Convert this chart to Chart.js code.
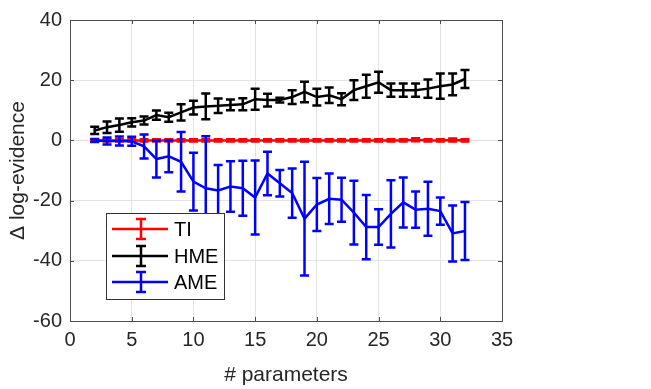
<!DOCTYPE html>
<html>
<head>
<meta charset="utf-8">
<script src="https://cdn.jsdelivr.net/npm/chart.js@4.4.0/dist/chart.umd.min.js"></script>
<style>
  html, body { margin: 0; padding: 0; background: #fff; }
  #wrap { width: 651px; height: 389px; }
</style>
</head>
<body>
<div id="wrap"><canvas id="grafico"></canvas></div>
<script>
// numero de parametros
const parametros = [2,3,4,5,6,7,8,9,10,11,12,13,14,15,16,17,18,19,20,21,22,23,24,25,26,27,28,29,30,31,32]

// TI
const tiValores = [0,0,0,0,0,0,0,0,0,0,0,0,0,0,0,0,0,0,0,0,0,0,0,0,0,0,0.2,0,0,0.1,0]
const tiErrores = [0.4,0.4,0.4,0.4,0.4,0.4,0.4,0.4,0.4,0.4,0.4,0.4,0.4,0.4,0.4,0.4,0.4,0.4,0.4,0.4,0.4,0.4,0.4,0.4,0.4,0.4,0.5,0.4,0.4,0.5,0.4]

// HME
const hmeValores = [3.3,4.4,5.1,6,6.6,8.4,7.7,9.3,10.9,11.3,11.5,11.8,12,13.7,13.4,13.4,14.4,16.1,14.4,15,13.7,16.7,18,19.3,16.7,16.7,16.7,17.2,18,18.6,20.4]
const hmeErrores = [1.2,1.9,2.2,1.4,1.3,1.5,1.5,2.7,2.3,4.3,2.4,1.8,2,3.5,2.1,0.8,2.3,3.4,2.8,2.6,2,3.3,3.8,3.5,2.2,2.2,2.2,3,4.2,3.6,3]

// AME
const ameValores = [0,-0.2,-0.2,-0.3,-2,-6.2,-5.3,-7.1,-13.7,-15.9,-16.6,-15.3,-15.9,-19,-11,-14.2,-17.5,-26,-21.3,-19.4,-19.7,-24,-28.8,-28.8,-24.4,-20.6,-23,-22.7,-23.5,-30.9,-30.1]
const ameErrores = [0.5,1.2,1.5,1.5,4,6.1,5.3,9.9,9.6,17.3,8.4,8.4,9.1,12.3,7.2,4.4,8.2,18.9,8.8,8.4,7.3,10.6,10.7,5.9,11.2,8.3,6,9,4.5,9.3,9.6]

// ticks
const ticksX = [0,5,10,15,20,25,30,35]
const ticksY = [-60,-40,-20,0,20,40]

const fuente = "'Liberation Sans', Arial, Helvetica, sans-serif"

const armarPuntos = (valores) => {
  let puntos = []
  for(let i=0; i < parametros.length; i++){
    puntos.push({ x: parametros[i], y: valores[i] })
  }
  return puntos
}

// dibuja las barras de error de cada dataset con las escalas del grafico
const barrasError = {
  id: 'barrasError',
  afterDatasetDraw(chart, args) {
    const ds = chart.data.datasets[args.index]
    if(!ds.errores) return
    const ctx = chart.ctx
    const xs = chart.scales.x
    const ys = chart.scales.y
    ctx.save()
    ctx.strokeStyle = ds.borderColor
    ctx.lineWidth = ds.borderWidth
    ctx.lineCap = 'butt'
    for(let i=0; i < ds.data.length; i++){
      const p = ds.data[i]
      const e = ds.errores[i]
      const px = xs.getPixelForValue(p.x)
      const arriba = ys.getPixelForValue(p.y + e)
      const abajo = ys.getPixelForValue(p.y - e)
      ctx.beginPath()
      ctx.moveTo(px, arriba); ctx.lineTo(px, abajo)
      ctx.moveTo(px - 4.5, arriba); ctx.lineTo(px + 4.5, arriba)
      ctx.moveTo(px - 4.5, abajo); ctx.lineTo(px + 4.5, abajo)
      ctx.stroke()
    }
    ctx.restore()
  }
}

// caja del eje con ticks hacia adentro (estilo matlab)
const cajaEjes = {
  id: 'cajaEjes',
  beforeDatasetsDraw(chart) {
    const ctx = chart.ctx
    const a = chart.chartArea
    const xs = chart.scales.x
    const ys = chart.scales.y
    ctx.save()
    ctx.strokeStyle = '#4d4d4d'
    ctx.lineWidth = 1
    ctx.beginPath()
    for(let i=0; i < ticksX.length; i++){
      const px = Math.round(xs.getPixelForValue(ticksX[i])) + 0.5
      ctx.moveTo(px, a.bottom); ctx.lineTo(px, a.bottom - 4)
      ctx.moveTo(px, a.top); ctx.lineTo(px, a.top + 4)
    }
    for(let i=0; i < ticksY.length; i++){
      const py = Math.round(ys.getPixelForValue(ticksY[i])) + 0.5
      ctx.moveTo(a.left, py); ctx.lineTo(a.left + 4, py)
      ctx.moveTo(a.right, py); ctx.lineTo(a.right - 4, py)
    }
    ctx.stroke()
    ctx.strokeRect(Math.round(a.left) + 0.5, Math.round(a.top) + 0.5, Math.round(a.right - a.left), Math.round(a.bottom - a.top))
    ctx.restore()
  },
  afterDraw(chart) {
    // leyenda dentro del area
    const ctx = chart.ctx
    const datasets = chart.data.datasets
    ctx.save()
    ctx.fillStyle = '#ffffff'
    ctx.fillRect(106, 213, 118, 86)
    ctx.strokeStyle = '#333333'
    ctx.lineWidth = 1
    ctx.strokeRect(106.5, 213.5, 118, 86)
    const filas = [229, 256, 282]
    for(let i=0; i < datasets.length; i++){
      const ds = datasets[i]
      const y = filas[i]
      ctx.strokeStyle = ds.borderColor
      ctx.lineWidth = 2.5
      ctx.beginPath()
      ctx.moveTo(112, y); ctx.lineTo(168, y)
      ctx.moveTo(141, y - 10); ctx.lineTo(141, y + 10)
      ctx.moveTo(136, y - 10); ctx.lineTo(146, y - 10)
      ctx.moveTo(136, y + 10); ctx.lineTo(146, y + 10)
      ctx.stroke()
      ctx.fillStyle = '#000000'
      ctx.font = '20px ' + fuente
      ctx.textBaseline = 'middle'
      ctx.textAlign = 'left'
      ctx.fillText(ds.label, 174, y + 1)
    }
    ctx.restore()
  }
}

const data = {
  datasets: [
    { label: 'TI', data: armarPuntos(tiValores), errores: tiErrores, borderColor: '#ff0000', backgroundColor: '#ff0000', borderWidth: 2.5, pointRadius: 0, order: 2 },
    { label: 'HME', data: armarPuntos(hmeValores), errores: hmeErrores, borderColor: '#000000', backgroundColor: '#000000', borderWidth: 2.5, pointRadius: 0, order: 1 },
    { label: 'AME', data: armarPuntos(ameValores), errores: ameErrores, borderColor: '#0000ff', backgroundColor: '#0000ff', borderWidth: 2.5, pointRadius: 0, order: 0 }
  ]
}

const config = {
  type: 'line',
  data: data,
  options: {
    responsive: true,
    maintainAspectRatio: false,
    animation: false,
    layout: { padding: { top: 17, right: 149, left: 0, bottom: 0 } },
    plugins: { legend: { display: false }, tooltip: { enabled: false } },
    scales: {
      x: {
        type: 'linear', min: 0, max: 35,
        afterBuildTicks: (s) => { s.ticks = ticksX.map(v => ({ value: v })) },
        afterFit: (s) => { s.height = 68 },
        grid: { color: '#e3e3e3', drawTicks: false },
        border: { display: false },
        ticks: { color: '#262626', padding: 7, font: { family: fuente, size: 20 } },
        title: { display: true, text: '# parameters', color: '#262626', padding: { top: 0, bottom: 1 }, font: { family: fuente, size: 21 } }
      },
      y: {
        type: 'linear', min: -60, max: 40,
        afterBuildTicks: (s) => { s.ticks = ticksY.map(v => ({ value: v })) },
        afterFit: (s) => { s.width = 70 },
        grid: { color: '#e3e3e3', drawTicks: false },
        border: { display: false },
        ticks: { color: '#262626', padding: 8, font: { family: fuente, size: 20 } },
        title: { display: true, text: 'Δ log-evidence', color: '#262626', padding: { top: 6, bottom: 0 }, font: { family: fuente, size: 21 } }
      }
    }
  },
  plugins: [barrasError, cajaEjes]
}

const myChart = new Chart(document.getElementById('grafico'), config)
</script>
</body>
</html>
